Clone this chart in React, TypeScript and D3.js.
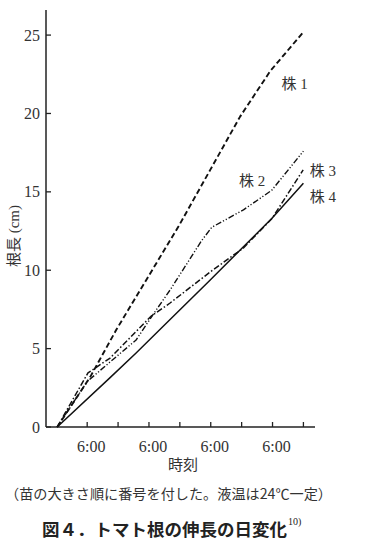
import React from "react";
import * as d3 from "d3";

// ---- data (hours relative to first 6:00 tick, root length in cm) ----
const plant1Hours = [-11.65, 1.2, 11.3, 20.6, 35.5, 47.8, 59.4, 71.1, 84];
const plant1Values = [0, 3.2, 6.2, 8.74, 12.8, 16.4, 19.8, 22.7, 25.2];

const plant2Hours = [-11.65, 0, 8.9, 19, 25.2, 32.2, 44.5, 48.4, 60.7, 71.7, 84];
const plant2Values = [0, 2.9, 4.15, 5.55, 7.08, 8.74, 11.9, 12.74, 13.85, 15.1, 17.6];

const plant3Hours = [-11.65, 0.3, 8.9, 24.9, 32.2, 47.8, 56.3, 60.6, 71.8, 83.9];
const plant3Values = [0, 3.45, 4.4, 7.08, 7.91, 9.89, 10.9, 11.4, 13.3, 16.4];

const plant4Hours = [-11.65, 8.9, 19, 32.2, 47.8, 60.7, 71.7, 84];
const plant4Values = [0, 3.15, 4.72, 6.86, 9.38, 11.5, 13.3, 15.55];

const seriesNames = ["株 1", "株 2", "株 3", "株 4"];
const yTicks = [0, 5, 10, 15, 20, 25];
const xTickHours = [0, 12, 24, 36, 48, 60, 72, 84];
const xLabelHours = [0, 24, 48, 72];
const xLabels = ["6:00", "6:00", "6:00", "6:00"];

const yAxisTitle = "根長 (cm)";
const xAxisTitle = "時刻";
const note = "（苗の大きさ順に番号を付した。液温は24℃一定）";
const figTitle = "図４．トマト根の伸長の日変化";
const figRef = "10)";

const W = 376;
const H = 551;

export default function App() {
  const x = d3.scaleLinear().domain([-16, 88.5]).range([46, 315]);
  const y = d3.scaleLinear().domain([0, 26.6]).range([427, 10]);

  const zip = (hs: number[], vs: number[]) => hs.map((h, i) => [h, vs[i]] as [number, number]);
  const line = d3
    .line<[number, number]>()
    .x((d) => x(d[0]))
    .y((d) => y(d[1]));

  const series = [
    { data: zip(plant1Hours, plant1Values), dash: "5.5,3", w: 1.9 },
    { data: zip(plant2Hours, plant2Values), dash: "6,2,1.2,2,1.2,2", w: 1.4 },
    { data: zip(plant3Hours, plant3Values), dash: "6,2.2,1.5,2.2", w: 1.5 },
    { data: zip(plant4Hours, plant4Values), dash: "none", w: 1.5 },
  ];

  // label anchor points (value space)
  const labelPos: [number, number, string][] = [
    [75.5, 21.9, "start"],
    [59.0, 15.7, "start"],
    [86.5, 16.3, "start"],
    [86.5, 14.7, "start"],
  ];

  const textColor = "#333";
  const numFont = "'Liberation Serif', 'DejaVu Serif', serif";
  const cjkFont = "'Liberation Serif', 'Noto Sans CJK JP', sans-serif";

  const x0 = x.range()[0];
  const x1 = x.range()[1];
  const yBase = y(0);
  const yTop = y.range()[1];

  return (
    <svg
      width={W}
      height={H}
      viewBox={`0 0 ${W} ${H}`}
      style={{ position: "absolute", left: 0, top: 0, background: "#fff" }}
    >
      <rect x={0} y={0} width={W} height={H} fill="#fff" />
      {/* axes */}
      <line x1={x0} y1={yTop} x2={x0} y2={yBase} stroke="#222" strokeWidth={1.5} />
      <line x1={x0} y1={yBase} x2={x1} y2={yBase} stroke="#222" strokeWidth={1.5} />
      {yTicks.map((t) => (
        <g key={"yt" + t}>
          <line x1={x0} y1={y(t)} x2={x0 + 5} y2={y(t)} stroke="#222" strokeWidth={1.3} />
          <text
            x={x0 - 6}
            y={y(t)}
            textAnchor="end"
            dominantBaseline="central"
            fontFamily={numFont}
            fontSize={16}
            fill={textColor}
          >
            {t}
          </text>
        </g>
      ))}
      {xTickHours.map((h) => (
        <line key={"xt" + h} x1={x(h)} y1={yBase} x2={x(h)} y2={yBase - 5} stroke="#222" strokeWidth={1.3} />
      ))}
      {xLabelHours.map((h, i) => (
        <text
          key={"xl" + h}
          x={x(h) + 4}
          y={yBase + 19}
          textAnchor="middle"
          dominantBaseline="central"
          fontFamily={numFont}
          fontSize={16}
          fill={textColor}
        >
          {xLabels[i]}
        </text>
      ))}
      <text
        x={183}
        y={465}
        textAnchor="middle"
        dominantBaseline="central"
        fontFamily={cjkFont}
        fontSize={15}
        fill={textColor}
      >
        {xAxisTitle}
      </text>
      <text
        transform={`translate(14,236) rotate(-90)`}
        textAnchor="middle"
        dominantBaseline="central"
        fontFamily={cjkFont}
        fontSize={15}
        fill={textColor}
      >
        {yAxisTitle}
      </text>

      {/* series */}
      {series.map((s, i) => (
        <path
          key={"s" + i}
          d={line(s.data) || ""}
          fill="none"
          stroke="#111"
          strokeWidth={s.w}
          strokeDasharray={s.dash}
          strokeLinejoin="round"
        />
      ))}
      {seriesNames.map((n, i) => (
        <text
          key={"n" + i}
          x={x(labelPos[i][0])}
          y={y(labelPos[i][1])}
          textAnchor={labelPos[i][2] as any}
          dominantBaseline="central"
          fontFamily={cjkFont}
          fontSize={15}
          fill={textColor}
        >
          {n}
        </text>
      ))}

      {/* captions */}
      <text
        x={5}
        y={493}
        dominantBaseline="central"
        fontFamily="'Noto Sans CJK JP', sans-serif"
        fontSize={14}
        fill={textColor}
        textLength={327}
        lengthAdjust="spacingAndGlyphs"
      >
        {note}
      </text>
      <text
        x={42}
        y={528}
        dominantBaseline="central"
        fontFamily="'Noto Sans CJK JP', sans-serif"
        fontSize={17}
        fontWeight="bold"
        fill="#222"
        textLength={245}
        lengthAdjust="spacingAndGlyphs"
      >
        {figTitle}
      </text>
      <text
        x={288}
        y={521}
        dominantBaseline="central"
        fontFamily={numFont}
        fontSize={10}
        fill="#222"
      >
        {figRef}
      </text>
    </svg>
  );
}
